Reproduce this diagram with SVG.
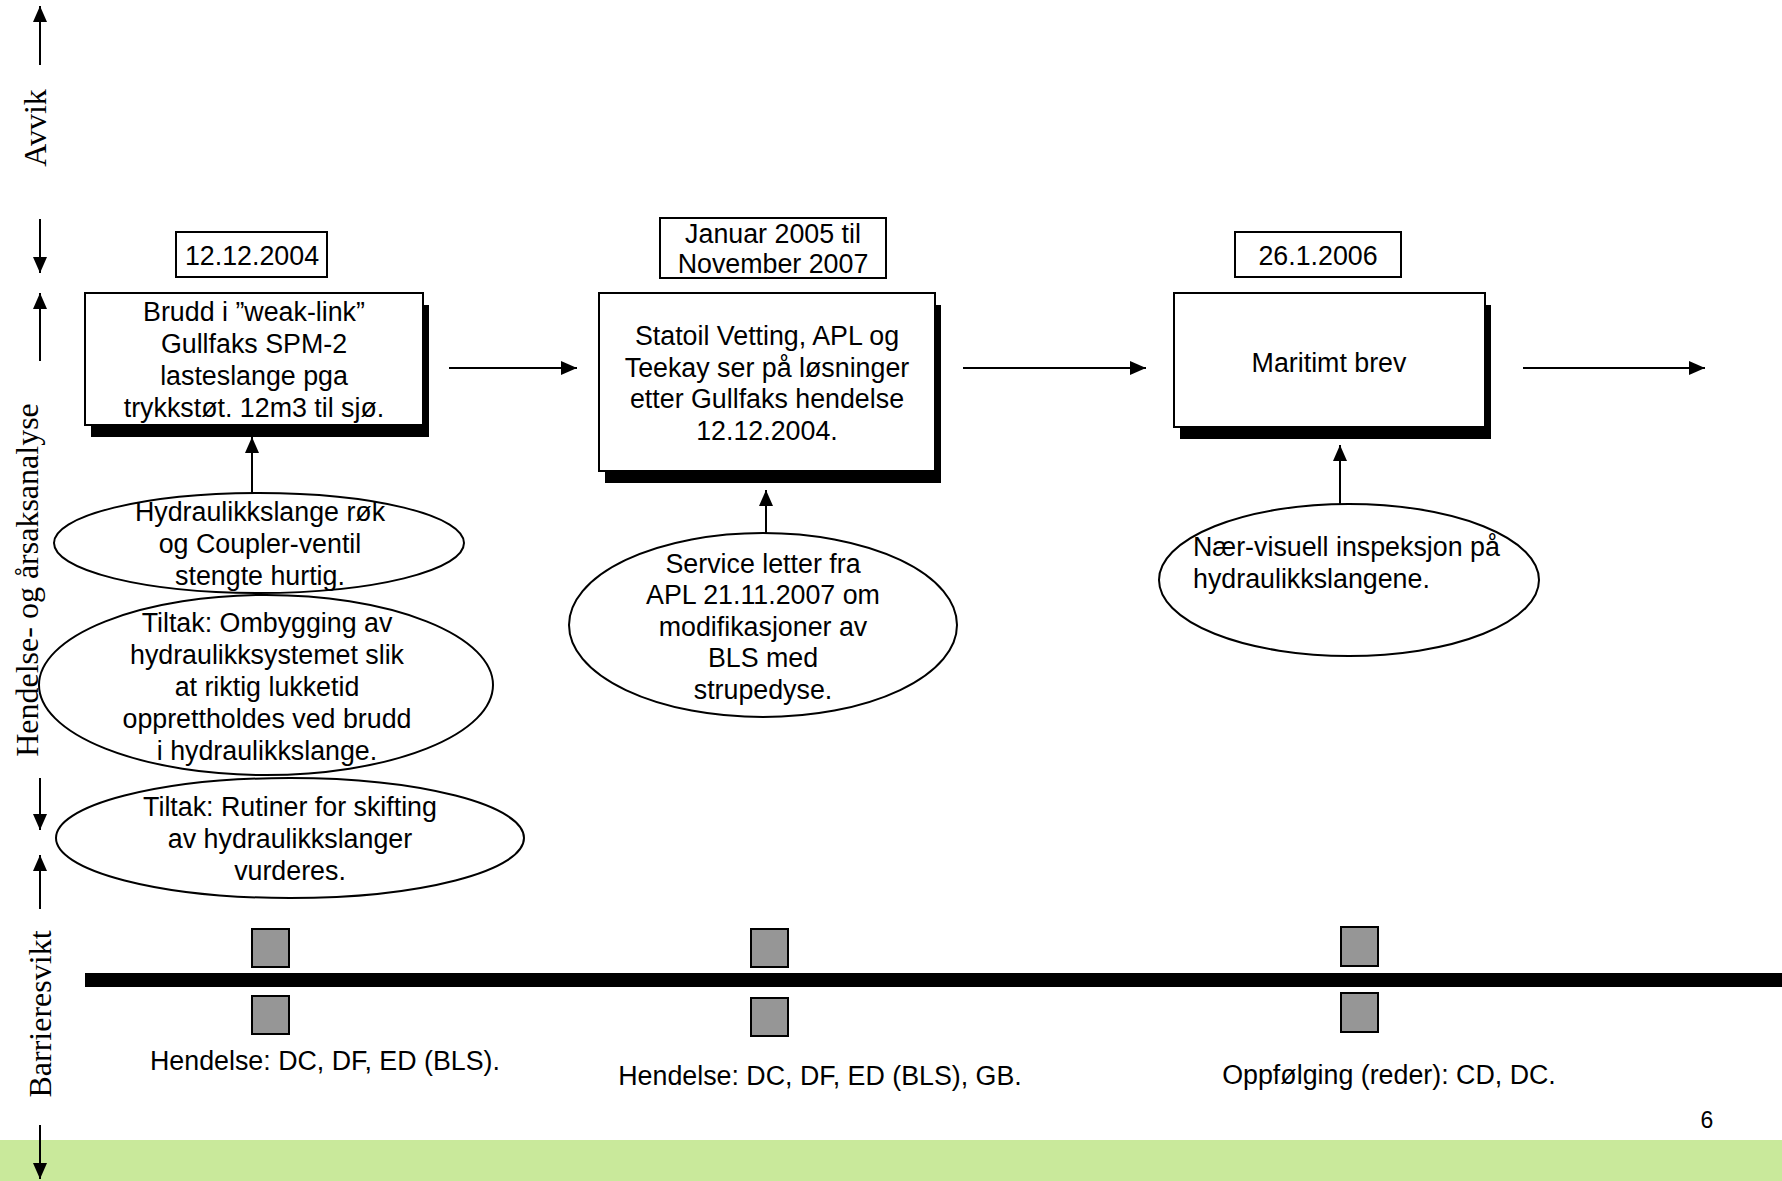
<svg xmlns="http://www.w3.org/2000/svg" width="1782" height="1181" viewBox="0 0 1782 1181">
<style>
.t{font-family:"Liberation Sans",Arial,sans-serif;font-size:26.8px;fill:#000;text-anchor:middle}
.ts{font-family:"Liberation Sans",Arial,sans-serif;font-size:26.8px;fill:#000;text-anchor:start}
.ax{font-family:"Liberation Serif","Times New Roman",serif;font-size:32px;fill:#000;text-anchor:middle}
.box{fill:#fff;stroke:#000;stroke-width:2}
.sh{fill:#000}
.ell{fill:#fff;stroke:#000;stroke-width:2}
.ln{stroke:#000;stroke-width:2;fill:none}
.sq{fill:#969696;stroke:#000;stroke-width:2}
</style>
<defs>
<marker id="ah" viewBox="0 0 16 14" refX="16" refY="7" markerWidth="16" markerHeight="14" markerUnits="userSpaceOnUse" orient="auto">
<path d="M0,0 L16,7 L0,14 z" fill="#000"/>
</marker>
</defs>
<rect x="0" y="0" width="1782" height="1181" fill="#fff"/>
<rect x="0" y="1140" width="1782" height="41" fill="#C9E99B"/>

<g id="axis-labels">
<text class="ax" transform="translate(46,128) rotate(-90)">Avvik</text>
<text class="ax" transform="translate(38,580) rotate(-90)">Hendelse- og årsaksanalyse</text>
<text class="ax" transform="translate(51,1014) rotate(-90)">Barrieresvikt</text>
</g>

<g id="connectors">
<line class="ln" x1="40" y1="65" x2="40" y2="6" marker-end="url(#ah)"/>
<line class="ln" x1="40" y1="219" x2="40" y2="273" marker-end="url(#ah)"/>
<line class="ln" x1="40" y1="361" x2="40" y2="293" marker-end="url(#ah)"/>
<line class="ln" x1="40" y1="778" x2="40" y2="830" marker-end="url(#ah)"/>
<line class="ln" x1="40" y1="909" x2="40" y2="855" marker-end="url(#ah)"/>
<line class="ln" x1="40" y1="1125" x2="40" y2="1179" marker-end="url(#ah)"/>
<line class="ln" x1="449" y1="368" x2="577" y2="368" marker-end="url(#ah)"/>
<line class="ln" x1="963" y1="368" x2="1146" y2="368" marker-end="url(#ah)"/>
<line class="ln" x1="1523" y1="368" x2="1705" y2="368" marker-end="url(#ah)"/>
<line class="ln" x1="252" y1="493" x2="252" y2="437" marker-end="url(#ah)"/>
<line class="ln" x1="766" y1="533" x2="766" y2="490" marker-end="url(#ah)"/>
<line class="ln" x1="1340" y1="504" x2="1340" y2="445" marker-end="url(#ah)"/>
</g>

<g id="date1">
<rect class="box" x="176" y="232" width="151" height="45"/>
<text class="t" x="252" y="265">12.12.2004</text>
</g>
<g id="date2">
<rect class="box" x="660" y="218" width="226" height="60"/>
<text class="t" x="773" y="243">Januar 2005 til</text>
<text class="t" x="773" y="273">November 2007</text>
</g>
<g id="date3">
<rect class="box" x="1235" y="232" width="166" height="45"/>
<text class="t" x="1318" y="265">26.1.2006</text>
</g>

<g id="event1">
<rect class="sh" x="91" y="305" width="338" height="132"/>
<rect class="box" x="85" y="293" width="338" height="132"/>
<text class="t" x="254" y="321">Brudd i ”weak-link”</text>
<text class="t" x="254" y="353">Gullfaks SPM-2</text>
<text class="t" x="254" y="385">lasteslange pga</text>
<text class="t" x="254" y="417">trykkstøt. 12m3 til sjø.</text>
</g>
<g id="event2">
<rect class="sh" x="605" y="305" width="336" height="178"/>
<rect class="box" x="599" y="293" width="336" height="178"/>
<text class="t" x="767" y="345">Statoil Vetting, APL og</text>
<text class="t" x="767" y="377">Teekay ser på løsninger</text>
<text class="t" x="767" y="408">etter Gullfaks hendelse</text>
<text class="t" x="767" y="440">12.12.2004.</text>
</g>
<g id="event3">
<rect class="sh" x="1180" y="305" width="311" height="134"/>
<rect class="box" x="1174" y="293" width="311" height="134"/>
<text class="t" x="1329" y="372">Maritimt brev</text>
</g>

<g id="cause1">
<ellipse class="ell" cx="259" cy="543" rx="205" ry="50"/>
<text class="t" x="260" y="521">Hydraulikkslange røk</text>
<text class="t" x="260" y="553">og Coupler-ventil</text>
<text class="t" x="260" y="585">stengte hurtig.</text>
</g>
<g id="measure1">
<ellipse class="ell" cx="266" cy="685" rx="227" ry="90"/>
<text class="t" x="267" y="632">Tiltak: Ombygging av</text>
<text class="t" x="267" y="664">hydraulikksystemet slik</text>
<text class="t" x="267" y="696">at riktig lukketid</text>
<text class="t" x="267" y="728">opprettholdes ved brudd</text>
<text class="t" x="267" y="760">i hydraulikkslange.</text>
</g>
<g id="measure2">
<ellipse class="ell" cx="290" cy="838" rx="234" ry="60"/>
<text class="t" x="290" y="816">Tiltak: Rutiner for skifting</text>
<text class="t" x="290" y="848">av hydraulikkslanger</text>
<text class="t" x="290" y="880">vurderes.</text>
</g>
<g id="cause2">
<ellipse class="ell" cx="763" cy="625" rx="194" ry="92"/>
<text class="t" x="763" y="573">Service letter fra</text>
<text class="t" x="763" y="604">APL 21.11.2007 om</text>
<text class="t" x="763" y="636">modifikasjoner av</text>
<text class="t" x="763" y="667">BLS med</text>
<text class="t" x="763" y="699">strupedyse.</text>
</g>
<g id="cause3">
<ellipse class="ell" cx="1349" cy="580" rx="190" ry="76"/>
<text class="ts" x="1193" y="556">Nær-visuell inspeksjon på</text>
<text class="ts" x="1193" y="588">hydraulikkslangene.</text>
</g>

<g id="barrier-line">
<rect x="85" y="973" width="1697" height="14" fill="#000"/>
</g>
<g id="barrier1">
<rect class="sq" x="252" y="929" width="37" height="38"/>
<rect class="sq" x="252" y="996" width="37" height="38"/>
<text class="t" x="325" y="1070">Hendelse: DC, DF, ED (BLS).</text>
</g>
<g id="barrier2">
<rect class="sq" x="751" y="929" width="37" height="38"/>
<rect class="sq" x="751" y="998" width="37" height="38"/>
<text class="t" x="820" y="1085">Hendelse: DC, DF, ED (BLS), GB.</text>
</g>
<g id="barrier3">
<rect class="sq" x="1341" y="927" width="37" height="39"/>
<rect class="sq" x="1341" y="993" width="37" height="39"/>
<text class="t" x="1389" y="1084">Oppfølging (reder): CD, DC.</text>
</g>

<text class="t" x="1707" y="1128" style="font-size:23px">6</text>
</svg>
